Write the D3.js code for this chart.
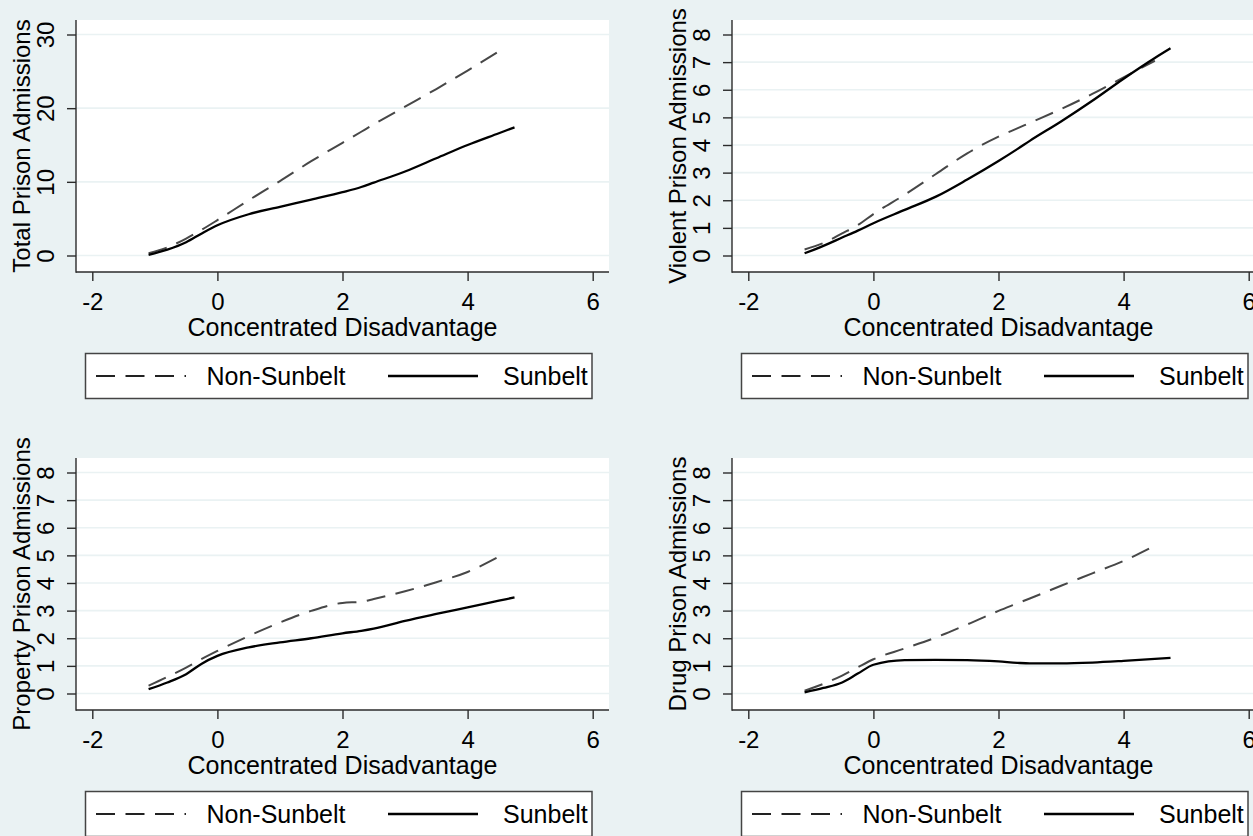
<!DOCTYPE html>
<html>
<head>
<meta charset="utf-8">
<script src="https://cdn.jsdelivr.net/npm/d3@7"></script>
<style>
  html, body { margin: 0; padding: 0; background: #eaf2f3; }
  svg { display: block; }
  text { font-family: Arial, "Liberation Sans", sans-serif; fill: #000; }
</style>
</head>
<body>
<svg id="chart" width="1253" height="836"></svg>
<script>
// ---------------- data ----------------
const seriesNames = ["Non-Sunbelt", "Sunbelt"];
const xLabel = "Concentrated Disadvantage";
const xTicks = [-2, 0, 2, 4, 6];
const totalTicks = [0, 10, 20, 30];
const rateTicks = [0, 1, 2, 3, 4, 5, 6, 7, 8];

const xNonSunbelt = [-1.1, -0.8, -0.5, -0.25, 0, 0.5, 1, 1.5, 2, 2.3, 2.5, 3, 3.5, 4, 4.5];
const xSunbelt    = [-1.1, -0.8, -0.5, -0.25, 0, 0.5, 1, 1.5, 2, 2.3, 2.5, 3, 3.5, 4, 4.5, 4.75];

const totalNonSunbelt    = [0.3, 1.1, 2.3, 3.5, 4.8, 7.5, 10.1, 12.8, 15.3, 16.8, 17.8, 20.2, 22.6, 25.1, 27.7];
const totalSunbelt       = [0.1, 0.8, 1.8, 3.0, 4.1, 5.6, 6.6, 7.6, 8.6, 9.3, 9.9, 11.4, 13.2, 15.0, 16.6, 17.4];

const violentNonSunbelt  = [0.22, 0.45, 0.8, 1.1, 1.5, 2.2, 2.95, 3.7, 4.3, 4.6, 4.8, 5.3, 5.85, 6.45, 7.05];
const violentSunbelt     = [0.08, 0.35, 0.65, 0.9, 1.17, 1.65, 2.13, 2.75, 3.42, 3.85, 4.15, 4.85, 5.6, 6.4, 7.15, 7.5];

const propertyNonSunbelt = [0.28, 0.6, 0.94, 1.25, 1.54, 2.08, 2.57, 2.99, 3.28, 3.32, 3.42, 3.7, 4.03, 4.4, 4.95];
const propertySunbelt    = [0.16, 0.4, 0.70, 1.08, 1.36, 1.67, 1.85, 2.0, 2.18, 2.27, 2.35, 2.63, 2.88, 3.12, 3.36, 3.48];

const drugNonSunbelt     = [0.1, 0.35, 0.65, 0.95, 1.24, 1.63, 2.03, 2.5, 2.99, 3.26, 3.44, 3.9, 4.35, 4.8, 5.35];
const drugSunbelt        = [0.04, 0.2, 0.4, 0.72, 1.04, 1.21, 1.22, 1.21, 1.16, 1.11, 1.09, 1.09, 1.12, 1.18, 1.25, 1.29];

// ---------------- layout ----------------
const panels = [
  { yLabel: "Total Prison Admissions",    ticks: totalTicks, ymax: 30, non: totalNonSunbelt,    sun: totalSunbelt,    dx: 0,   dy: 0 },
  { yLabel: "Violent Prison Admissions",  ticks: rateTicks,  ymax: 8,  non: violentNonSunbelt,  sun: violentSunbelt,  dx: 656, dy: 0 },
  { yLabel: "Property Prison Admissions", ticks: rateTicks,  ymax: 8,  non: propertyNonSunbelt, sun: propertySunbelt, dx: 0,   dy: 438 },
  { yLabel: "Drug Prison Admissions",     ticks: rateTicks,  ymax: 8,  non: drugNonSunbelt,     sun: drugSunbelt,     dx: 656, dy: 438 }
];

const bg = "#eaf2f3";
const axisColor = "#2b2b2b";
const plotL = 76, plotR = 609, plotT = 20, plotB = 272;
const FS = 24, FSH = 25;
const fam = "Arial, 'Liberation Sans', sans-serif";

const svg = d3.select("#chart");
svg.append("rect").attr("width", 1253).attr("height", 836).attr("fill", bg);

panels.forEach(p => {
  const g = svg.append("g").attr("transform", `translate(${p.dx},${p.dy})`);

  const x = d3.scaleLinear().domain([-2, 6]).range([92.3, 592.7]);
  const y = d3.scaleLinear().domain([0, p.ymax]).range([255.5, 34.5]);

  // plot region
  g.append("rect").attr("x", plotL).attr("y", plotT)
    .attr("width", plotR - plotL).attr("height", plotB - plotT).attr("fill", "#fff");

  // gridlines
  g.append("g").selectAll("line").data(p.ticks).join("line")
    .attr("x1", plotL).attr("x2", plotR)
    .attr("y1", d => y(d)).attr("y2", d => y(d))
    .attr("stroke", bg).attr("stroke-width", 1.6);

  // series
  const line = d3.line().x(d => x(d[0])).y(d => y(d[1])).curve(d3.curveMonotoneX);
  const nonPts = xNonSunbelt.map((xv, i) => [xv, p.non[i]]);
  const sunPts = xSunbelt.map((xv, i) => [xv, p.sun[i]]);
  g.append("path").datum(nonPts).attr("d", line)
    .attr("fill", "none").attr("stroke", "#474747").attr("stroke-width", 2)
    .attr("stroke-dasharray", "19,10.5");
  g.append("path").datum(sunPts).attr("d", line)
    .attr("fill", "none").attr("stroke", "#000").attr("stroke-width", 2.3);

  // y axis
  const ya = g.append("g").attr("transform", `translate(${plotL},0)`)
    .call(d3.axisLeft(y).tickValues(p.ticks).tickSize(9).tickSizeOuter(0).tickFormat(d => String(d)));
  ya.select(".domain").remove();
  ya.selectAll(".tick line").attr("stroke", axisColor).attr("stroke-width", 1.4);
  ya.selectAll(".tick text")
    .attr("x", 0).attr("y", 0).attr("dy", 0)
    .attr("transform", "translate(-22,0) rotate(-90)")
    .attr("text-anchor", "middle")
    .style("font-size", FS + "px").style("font-family", fam)
    .attr("fill", "#000");
  g.append("line").attr("x1", plotL).attr("x2", plotL).attr("y1", plotT).attr("y2", plotB + 0.7)
    .attr("stroke", axisColor).attr("stroke-width", 1.4);

  // x axis
  const xa = g.append("g").attr("transform", `translate(0,${plotB})`)
    .call(d3.axisBottom(x).tickValues(xTicks).tickSize(9).tickSizeOuter(0).tickFormat(d => String(d)));
  xa.select(".domain").remove();
  xa.selectAll(".tick line").attr("stroke", axisColor).attr("stroke-width", 1.4);
  xa.selectAll(".tick text")
    .attr("y", 38).attr("dy", 0)
    .style("font-size", FS + "px").style("font-family", fam)
    .attr("fill", "#000");
  g.append("line").attr("x1", plotL).attr("x2", plotR).attr("y1", plotB).attr("y2", plotB)
    .attr("stroke", axisColor).attr("stroke-width", 1.4);

  // axis titles
  g.append("text").attr("transform", `translate(30,${(plotT + plotB) / 2}) rotate(-90)`)
    .attr("text-anchor", "middle").style("font-size", FS + "px").text(p.yLabel);
  g.append("text").attr("x", (plotL + plotR) / 2).attr("y", 335.5)
    .attr("text-anchor", "middle").style("font-size", FSH + "px").text(xLabel);

  // legend
  const lg = g.append("g");
  lg.append("rect").attr("x", 85.5).attr("y", 353.5).attr("width", 506.5).attr("height", 45)
    .attr("fill", "#fff").attr("stroke", "#444").attr("stroke-width", 1.5);
  const items = [
    { name: seriesNames[0], x0: 96, x1: 186, tx: 206.5, dash: "19,10.5", color: "#222", w: 2 },
    { name: seriesNames[1], x0: 388, x1: 478, tx: 503, dash: null, color: "#000", w: 2.3 }
  ];
  items.forEach(it => {
    lg.append("line").attr("x1", it.x0).attr("x2", it.x1).attr("y1", 376).attr("y2", 376)
      .attr("stroke", it.color).attr("stroke-width", it.w)
      .attr("stroke-dasharray", it.dash);
    lg.append("text").attr("x", it.tx).attr("y", 385).style("font-size", FSH + "px").text(it.name);
  });
});
</script>
</body>
</html>
